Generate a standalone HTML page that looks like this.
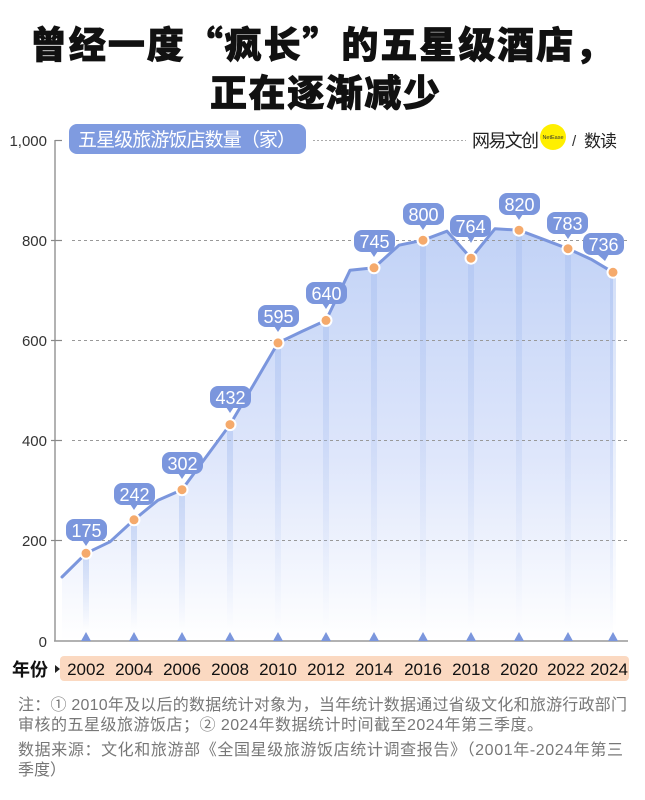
<!DOCTYPE html>
<html><head><meta charset="utf-8">
<style>
html,body{margin:0;padding:0;background:#fff;}
svg{display:block;}
.cjk{font-family:"Liberation Sans","Noto Sans CJK SC",sans-serif;}
</style></head>
<body>
<svg width="645" height="800" viewBox="0 0 645 800" xmlns="http://www.w3.org/2000/svg">
<defs>
<linearGradient id="area" gradientUnits="userSpaceOnUse" x1="0" y1="228" x2="0" y2="641">
<stop offset="0" stop-color="#c1d2f6"/>
<stop offset="0.55" stop-color="#dee6fb"/>
<stop offset="1" stop-color="#ffffff"/>
</linearGradient>
<linearGradient id="bar" x1="0" y1="0" x2="0" y2="1">
<stop offset="0" stop-color="#a9c0f0" stop-opacity="0.5"/>
<stop offset="1" stop-color="#a9c0f0" stop-opacity="0"/>
</linearGradient>
</defs>

<!-- Title -->
<text x="321" y="58" text-anchor="middle" textLength="582" lengthAdjust="spacing" font-size="37" font-weight="900" fill="#111" stroke="#111" stroke-width="0.8" style='font-family:"Noto Sans CJK SC","Liberation Sans",sans-serif'>曾经一度“疯长”的五星级酒店，</text>
<text x="325" y="106" text-anchor="middle" textLength="230" lengthAdjust="spacing" font-size="37" font-weight="900" fill="#111" stroke="#111" stroke-width="0.8" style='font-family:"Noto Sans CJK SC","Liberation Sans",sans-serif'>正在逐渐减少</text>

<!-- area -->
<path d="M62,577 L86,553.3 L110,541.8 L134,519.8 L158,500.2 L182,489.7 L206,457.1 L230,424.6 L254,384 L278,342.9 L302,331.4 L326,320.4 L350,270.3 L374,267.8 L399,245.2 L423,240.2 L447,231.2 L471,258.2 L495,228.7 L519,230.2 L543,239.2 L568,248.7 L591,259.2 L613,272.3 L613,641 L62,641 Z" fill="url(#area)"/>

<!-- grid -->
<g stroke="#999" stroke-width="1" stroke-dasharray="3,3">
<line x1="72" y1="240.5" x2="628" y2="240.5"/>
<line x1="72" y1="340.5" x2="628" y2="340.5"/>
<line x1="72" y1="440.5" x2="628" y2="440.5"/>
<line x1="72" y1="540.5" x2="628" y2="540.5"/>
</g>
<line x1="313" y1="140.5" x2="466" y2="140.5" stroke="#aaa" stroke-width="1" stroke-dasharray="2,2"/>

<!-- vertical bars -->
<g fill="url(#bar)">
<rect x="83" y="559" width="6" height="70"/>
<rect x="131" y="526" width="6" height="103"/>
<rect x="179" y="496" width="6" height="133"/>
<rect x="227" y="431" width="6" height="198"/>
<rect x="275" y="349" width="6" height="280"/>
<rect x="323" y="327" width="6" height="302"/>
<rect x="371" y="274" width="6" height="355"/>
<rect x="420" y="246" width="6" height="383"/>
<rect x="468" y="264" width="6" height="365"/>
<rect x="516" y="236" width="6" height="393"/>
<rect x="565" y="255" width="6" height="374"/>
<rect x="610" y="278" width="6" height="351"/>
</g>

<!-- axes -->
<line x1="55" y1="140" x2="55" y2="641" stroke="#999" stroke-width="1.5"/>
<line x1="54" y1="641" x2="628" y2="641" stroke="#999" stroke-width="1.5"/>
<g stroke="#888" stroke-width="1.2">
<line x1="55" y1="140.5" x2="62" y2="140.5"/>
<line x1="51" y1="240.5" x2="62" y2="240.5"/>
<line x1="51" y1="340.5" x2="62" y2="340.5"/>
<line x1="51" y1="440.5" x2="62" y2="440.5"/>
<line x1="51" y1="540.5" x2="62" y2="540.5"/>
</g>
<g font-size="15" fill="#333" text-anchor="end" style='font-family:"Liberation Sans",sans-serif'>
<text x="47" y="146">1,000</text>
<text x="47" y="246">800</text>
<text x="47" y="346">600</text>
<text x="47" y="446">400</text>
<text x="47" y="546">200</text>
<text x="47" y="647">0</text>
</g>

<!-- triangles on axis -->
<g fill="#7b96dd">
<path d="M81,641 L86,632 L91,641Z"/>
<path d="M129,641 L134,632 L139,641Z"/>
<path d="M177,641 L182,632 L187,641Z"/>
<path d="M225,641 L230,632 L235,641Z"/>
<path d="M273,641 L278,632 L283,641Z"/>
<path d="M321,641 L326,632 L331,641Z"/>
<path d="M369,641 L374,632 L379,641Z"/>
<path d="M418,641 L423,632 L428,641Z"/>
<path d="M466,641 L471,632 L476,641Z"/>
<path d="M514,641 L519,632 L524,641Z"/>
<path d="M563,641 L568,632 L573,641Z"/>
<path d="M608,641 L613,632 L618,641Z"/>
</g>

<!-- line -->
<path d="M62,577 L86,553.3 L110,541.8 L134,519.8 L158,500.2 L182,489.7 L206,457.1 L230,424.6 L254,384 L278,342.9 L302,331.4 L326,320.4 L350,270.3 L374,267.8 L399,245.2 L423,240.2 L447,231.2 L471,258.2 L495,228.7 L519,230.2 L543,239.2 L568,248.7 L591,259.2 L613,272.3" fill="none" stroke="#7b96dd" stroke-width="3" stroke-linejoin="round" stroke-linecap="round"/>

<!-- dots -->
<g fill="#f5aa6c" stroke="#fff" stroke-width="2">
<circle cx="86" cy="553.3" r="5.5"/>
<circle cx="134" cy="519.8" r="5.5"/>
<circle cx="182" cy="489.7" r="5.5"/>
<circle cx="230" cy="424.6" r="5.5"/>
<circle cx="278" cy="342.9" r="5.5"/>
<circle cx="326" cy="320.4" r="5.5"/>
<circle cx="374" cy="267.8" r="5.5"/>
<circle cx="423" cy="240.2" r="5.5"/>
<circle cx="471" cy="258.2" r="5.5"/>
<circle cx="519" cy="230.2" r="5.5"/>
<circle cx="568" cy="248.7" r="5.5"/>
<circle cx="613" cy="272.3" r="5.5"/>
</g>

<!-- bubbles -->
<g fill="#7b96dd">
<rect x="66" y="519" width="41" height="22" rx="8"/><path d="M82,540 L86,546 L90,540Z"/>
<rect x="114" y="483" width="41" height="22" rx="8"/><path d="M130,504 L134,510 L138,504Z"/>
<rect x="162" y="452" width="41" height="22" rx="8"/><path d="M178,473 L182,479 L186,473Z"/>
<rect x="210" y="386" width="41" height="22" rx="8"/><path d="M226,407 L230,413 L234,407Z"/>
<rect x="258" y="305" width="41" height="22" rx="8"/><path d="M274,326 L278,332 L282,326Z"/>
<rect x="306" y="282" width="41" height="22" rx="8"/><path d="M322,303 L326,309 L330,303Z"/>
<rect x="354" y="230" width="41" height="22" rx="8"/><path d="M370,251 L374,257 L378,251Z"/>
<rect x="403" y="203" width="41" height="22" rx="8"/><path d="M419,224 L423,230 L427,224Z"/>
<rect x="450" y="215" width="41" height="22" rx="8"/><path d="M467,236 L471,243 L475,236Z"/>
<rect x="499" y="193" width="41" height="22" rx="8"/><path d="M515,214 L519,220 L523,214Z"/>
<rect x="547" y="212" width="41" height="22" rx="8"/><path d="M564,233 L568,239 L572,233Z"/>
<rect x="583" y="233" width="41" height="22" rx="8"/><path d="M597,254 L605,261 L609,254Z"/>
</g>
<g font-size="18" fill="#fff" text-anchor="middle" style='font-family:"Liberation Sans",sans-serif'>
<text x="86.5" y="537">175</text>
<text x="134.5" y="501">242</text>
<text x="182.5" y="470">302</text>
<text x="230.5" y="404">432</text>
<text x="278.5" y="323">595</text>
<text x="326.5" y="300">640</text>
<text x="374.5" y="248">745</text>
<text x="423.5" y="221">800</text>
<text x="470.5" y="233">764</text>
<text x="519.5" y="211">820</text>
<text x="567.5" y="230">783</text>
<text x="603.5" y="251">736</text>
</g>

<!-- legend box -->
<rect x="69" y="124" width="237" height="30" rx="8" fill="#7f9be0"/>
<text x="78" y="146" font-size="19" fill="#fff" textLength="218" lengthAdjust="spacing" class="cjk">五星级旅游饭店数量（家）</text>

<!-- logo -->
<text x="472" y="147" font-size="18" fill="#222" textLength="67" lengthAdjust="spacing" class="cjk">网易文创</text>
<circle cx="553" cy="137" r="13" fill="#ffef00"/>
<text x="553" y="139" font-size="5.5" fill="#333" text-anchor="middle" style='font-family:"Liberation Sans",sans-serif'>NetEase</text>
<text x="572" y="146" font-size="15" fill="#333" style='font-family:"Liberation Sans",sans-serif'>/</text>
<text x="584" y="147" font-size="17" fill="#222" textLength="33" lengthAdjust="spacing" class="cjk">数读</text>

<!-- year bar -->
<rect x="60" y="656" width="569" height="25" rx="4" fill="#fbd9c1"/>
<text x="12" y="676" font-size="18" font-weight="bold" fill="#111" style='font-family:"Noto Sans CJK SC","Liberation Sans",sans-serif'>年份</text>
<path d="M55,665 L60,669 L55,673Z" fill="#222"/>
<g font-size="17" fill="#111" text-anchor="middle" style='font-family:"Liberation Sans",sans-serif'>
<text x="86" y="675">2002</text>
<text x="134" y="675">2004</text>
<text x="182" y="675">2006</text>
<text x="230" y="675">2008</text>
<text x="278" y="675">2010</text>
<text x="326" y="675">2012</text>
<text x="374" y="675">2014</text>
<text x="423" y="675">2016</text>
<text x="471" y="675">2018</text>
<text x="519" y="675">2020</text>
<text x="566" y="675">2022</text>
<text x="609" y="675">2024</text>
</g>

<!-- notes -->
<g font-size="16" fill="#777" class="cjk">
<text x="18" y="710" textLength="609" lengthAdjust="spacing">注：① 2010年及以后的数据统计对象为，当年统计数据通过省级文化和旅游行政部门</text>
<text x="18" y="730" textLength="525" lengthAdjust="spacing">审核的五星级旅游饭店；② 2024年数据统计时间截至2024年第三季度。</text>
<text x="18" y="755" textLength="605" lengthAdjust="spacing">数据来源：文化和旅游部《全国星级旅游饭店统计调查报告》（2001年-2024年第三</text>
<text x="18" y="775">季度）</text>
</g>
</svg>
</body></html>
